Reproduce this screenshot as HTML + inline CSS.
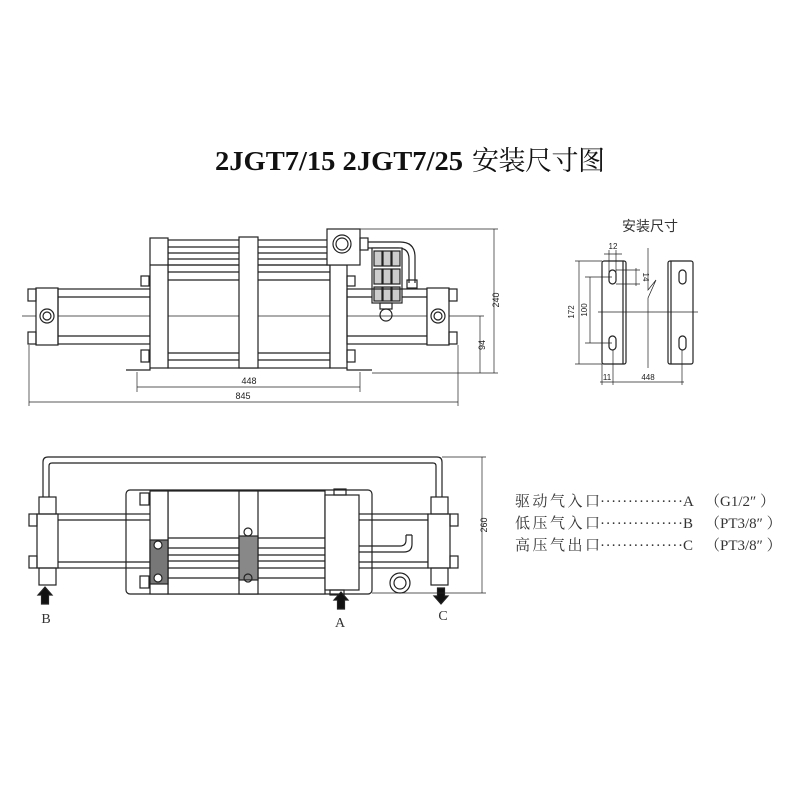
<!DOCTYPE html>
<html><head><meta charset="utf-8"><style>
html,body{margin:0;padding:0;background:#fff}
svg{display:block}
.t{font-family:"Liberation Sans","Noto Sans CJK SC",sans-serif}
.s{font-family:"Liberation Serif","Noto Serif CJK SC",serif}
</style></head><body>
<svg width="800" height="800" viewBox="0 0 800 800" xmlns="http://www.w3.org/2000/svg">
<g fill="none" stroke="#222" stroke-width="1.2">
<text x="215" y="170" class="s" font-size="27" font-weight="bold" fill="#111" stroke="none" textLength="248" lengthAdjust="spacingAndGlyphs">2JGT7/15  2JGT7/25</text>
<text x="472" y="170" class="s" font-size="27" fill="#111" stroke="none" textLength="133">安装尺寸图</text>

<!-- TOP VIEW -->
<line x1="22" y1="316" x2="465" y2="316" stroke-width="0.7"/>
<rect x="36" y="288" width="22" height="57" fill="#fff"/>
<rect x="28" y="289" width="8" height="12"/><rect x="28" y="332" width="8" height="12"/>
<circle cx="47" cy="316" r="7"/><circle cx="47" cy="316" r="4"/>
<rect x="58" y="289" width="92" height="55"/>
<line x1="58" y1="297" x2="150" y2="297"/><line x1="58" y1="336" x2="150" y2="336"/>
<rect x="168" y="240" width="160" height="25"/>
<line x1="168" y1="247" x2="328" y2="247"/><line x1="168" y1="253" x2="328" y2="253"/><line x1="168" y1="259" x2="328" y2="259"/>
<rect x="168" y="265" width="162" height="103"/>
<line x1="168" y1="272" x2="330" y2="272"/><line x1="168" y1="280" x2="330" y2="280"/>
<line x1="168" y1="353" x2="330" y2="353"/><line x1="168" y1="360" x2="330" y2="360"/>
<rect x="150" y="238" width="18" height="130" fill="#fff"/>
<line x1="150" y1="265" x2="168" y2="265"/>
<rect x="239" y="237" width="19" height="131" fill="#fff"/>
<rect x="330" y="265" width="17" height="103" fill="#fff"/>
<rect x="141" y="276" width="8" height="10"/><rect x="347" y="276" width="8" height="10"/>
<rect x="141" y="350" width="8" height="12"/><rect x="347" y="350" width="8" height="12"/>
<rect x="327" y="229" width="33" height="36" fill="#fff"/>
<circle cx="342" cy="244" r="9"/><circle cx="342" cy="244" r="6"/>
<rect x="360" y="238" width="8" height="12"/>
<path d="M368 242 H400 Q415 242 415 257 V283 M368 248 H398 Q409 248 409 259 V283"/>
<rect x="407" y="280" width="10" height="8"/>
<rect x="372" y="248" width="30" height="55" fill="#fff"/>
<g fill="#ccc">
<rect x="374" y="251" width="8" height="15"/><rect x="383" y="251" width="8" height="15"/><rect x="392" y="251" width="8" height="15"/>
<rect x="374" y="269" width="8" height="15"/><rect x="383" y="269" width="8" height="15"/><rect x="392" y="269" width="8" height="15"/>
<rect x="374" y="287" width="8" height="14"/><rect x="383" y="287" width="8" height="14"/><rect x="392" y="287" width="8" height="14"/>
</g>
<rect x="380" y="303" width="12" height="6"/><circle cx="386" cy="315" r="6"/>
<rect x="347" y="289" width="80" height="55"/>
<line x1="347" y1="297" x2="372" y2="297"/><line x1="402" y1="297" x2="427" y2="297"/><line x1="347" y1="336" x2="427" y2="336"/>
<rect x="427" y="288" width="22" height="57" fill="#fff"/>
<rect x="449" y="289" width="8" height="12"/><rect x="449" y="332" width="8" height="12"/>
<circle cx="438" cy="316" r="7"/><circle cx="438" cy="316" r="4"/>
<path d="M126 370 H150 V368"/><path d="M347 368 V370 H372"/>
<g stroke-width="0.7">
<line x1="360" y1="229" x2="498" y2="229"/><line x1="372" y1="373" x2="498" y2="373"/>
<line x1="494" y1="229" x2="494" y2="373"/>
<line x1="465" y1="316" x2="484" y2="316"/><line x1="480" y1="316" x2="480" y2="373"/>
<line x1="137" y1="372" x2="137" y2="392"/><line x1="360" y1="372" x2="360" y2="392"/>
<line x1="137" y1="387" x2="360" y2="387"/>
<line x1="29" y1="345" x2="29" y2="406"/><line x1="458" y1="345" x2="458" y2="406"/>
<line x1="29" y1="402" x2="458" y2="402"/>
</g>
<g class="t" font-size="9" fill="#222" stroke="none">
<text x="249" y="384" text-anchor="middle">448</text>
<text x="243" y="399" text-anchor="middle">845</text>
<text transform="translate(499,300) rotate(-90)" text-anchor="middle">240</text>
<text transform="translate(485,345) rotate(-90)" text-anchor="middle">94</text>
</g>

<!-- BRACKETS -->
<text x="650" y="231" text-anchor="middle" class="t" font-size="14" fill="#333" stroke="none">安装尺寸</text>
<rect x="602" y="261" width="24" height="103" rx="2"/><line x1="623" y1="261" x2="623" y2="364"/>
<rect x="668" y="261" width="25" height="103" rx="2"/><line x1="671" y1="261" x2="671" y2="364"/>
<rect x="609" y="270" width="7" height="14" rx="3.5"/><rect x="609" y="336" width="7" height="14" rx="3.5"/>
<rect x="679" y="270" width="7" height="14" rx="3.5"/><rect x="679" y="336" width="7" height="14" rx="3.5"/>
<g stroke-width="0.7">
<line x1="598" y1="312" x2="698" y2="312"/>
<path d="M648 248 V290 L656 280 L648 298 V368"/>
<line x1="575" y1="261" x2="602" y2="261"/><line x1="575" y1="364" x2="602" y2="364"/><line x1="579" y1="261" x2="579" y2="364"/>
<line x1="585" y1="277" x2="612" y2="277"/><line x1="585" y1="343" x2="612" y2="343"/><line x1="590" y1="277" x2="590" y2="343"/>
<line x1="609" y1="250" x2="609" y2="272"/><line x1="616" y1="250" x2="616" y2="272"/><line x1="604" y1="254" x2="622" y2="254"/>
<line x1="616" y1="270" x2="640" y2="270"/><line x1="616" y1="284" x2="640" y2="284"/><line x1="636" y1="268" x2="636" y2="286"/>
<line x1="602" y1="364" x2="602" y2="385"/><line x1="613" y1="350" x2="613" y2="385"/><line x1="682" y1="350" x2="682" y2="385"/>
<line x1="600" y1="382" x2="684" y2="382"/>
</g>
<g class="t" font-size="8" fill="#222" stroke="none">
<text x="613" y="249" text-anchor="middle">12</text>
<text transform="translate(643,277) rotate(90)" text-anchor="middle">14</text>
<text transform="translate(574,312) rotate(-90)" text-anchor="middle">172</text>
<text transform="translate(587,310) rotate(-90)" text-anchor="middle">100</text>
<text x="607" y="380" text-anchor="middle">11</text>
<text x="648" y="380" text-anchor="middle">448</text>
</g>

<!-- BOTTOM VIEW -->
<path d="M43 497 V462 Q43 457 48 457 H437 Q442 457 442 462 V497"/>
<path d="M49 497 V466 Q49 463 52 463 H433 Q436 463 436 466 V497"/>
<rect x="126" y="490" width="246" height="104" rx="4"/>
<rect x="57" y="514" width="371" height="54"/>
<line x1="57" y1="520" x2="150" y2="520"/><line x1="57" y1="562" x2="150" y2="562"/>
<line x1="359" y1="520" x2="428" y2="520"/><line x1="359" y1="562" x2="428" y2="562"/>
<rect x="168" y="491" width="157" height="103" fill="#fff"/>
<line x1="168" y1="538" x2="325" y2="538"/><line x1="168" y1="548" x2="325" y2="548"/><line x1="168" y1="555" x2="325" y2="555"/><line x1="168" y1="561" x2="325" y2="561"/><line x1="168" y1="568" x2="325" y2="568"/><line x1="168" y1="578" x2="325" y2="578"/>
<rect x="150" y="491" width="18" height="103" fill="#fff"/>
<rect x="150" y="540" width="18" height="44" fill="#777"/>
<circle cx="158" cy="545" r="4" fill="#fff"/><circle cx="158" cy="578" r="4" fill="#fff"/>
<rect x="239" y="491" width="19" height="103" fill="#fff"/>
<rect x="239" y="536" width="19" height="44" fill="#888"/>
<circle cx="248" cy="532" r="4"/><circle cx="248" cy="578" r="4"/>
<rect x="140" y="493" width="9" height="12"/><rect x="140" y="576" width="9" height="12"/>
<rect x="325" y="495" width="34" height="95" fill="#fff"/>
<rect x="334" y="489" width="12" height="6"/><rect x="330" y="590" width="14" height="5"/>
<path d="M359 546 H400 Q406 546 406 540 V535 M359 552 H404 Q412 552 412 544 V535 M406 535 H412"/>
<circle cx="400" cy="583" r="10"/><circle cx="400" cy="583" r="6"/>
<rect x="37" y="514" width="21" height="54" fill="#fff"/>
<rect x="39" y="497" width="17" height="17"/><rect x="39" y="568" width="17" height="17"/>
<rect x="29" y="514" width="8" height="12"/><rect x="29" y="556" width="8" height="12"/>
<rect x="428" y="514" width="22" height="54" fill="#fff"/>
<rect x="431" y="497" width="17" height="17"/><rect x="431" y="568" width="17" height="17"/>
<rect x="450" y="514" width="8" height="12"/><rect x="450" y="556" width="8" height="12"/>
<path d="M45 587 L52 595 H48.5 V604 H41.5 V595 H38 Z" fill="#111"/>
<path d="M341 592 L348 600 H344.5 V609 H337.5 V600 H334 Z" fill="#111"/>
<path d="M441 604 L448 596 H444.5 V588 H437.5 V596 H434 Z" fill="#111"/>
<g class="s" font-size="14" fill="#333" stroke="none">
<text x="46" y="623" text-anchor="middle">B</text>
<text x="340" y="627" text-anchor="middle">A</text>
<text x="443" y="620" text-anchor="middle">C</text>
</g>
<g stroke-width="0.7">
<line x1="442" y1="457" x2="486" y2="457"/><line x1="372" y1="593" x2="486" y2="593"/>
<line x1="482" y1="457" x2="482" y2="593"/>
</g>
<text transform="translate(487,525) rotate(-90)" text-anchor="middle" class="t" font-size="9" fill="#222" stroke="none">260</text>

<g class="s" font-size="15" fill="#333" stroke="none">
<text x="515" y="506" textLength="85">驱动气入口</text>
<text x="600" y="506" textLength="83">···············</text>
<text x="683" y="506">A</text>
<text x="705" y="506">（G1/2″ ）</text>
<text x="515" y="528" textLength="85">低压气入口</text>
<text x="600" y="528" textLength="83">···············</text>
<text x="683" y="528">B</text>
<text x="705" y="528">（PT3/8″ ）</text>
<text x="515" y="550" textLength="85">高压气出口</text>
<text x="600" y="550" textLength="83">···············</text>
<text x="683" y="550">C</text>
<text x="705" y="550">（PT3/8″ ）</text>
</g>
</g>
</svg>
</body></html>
